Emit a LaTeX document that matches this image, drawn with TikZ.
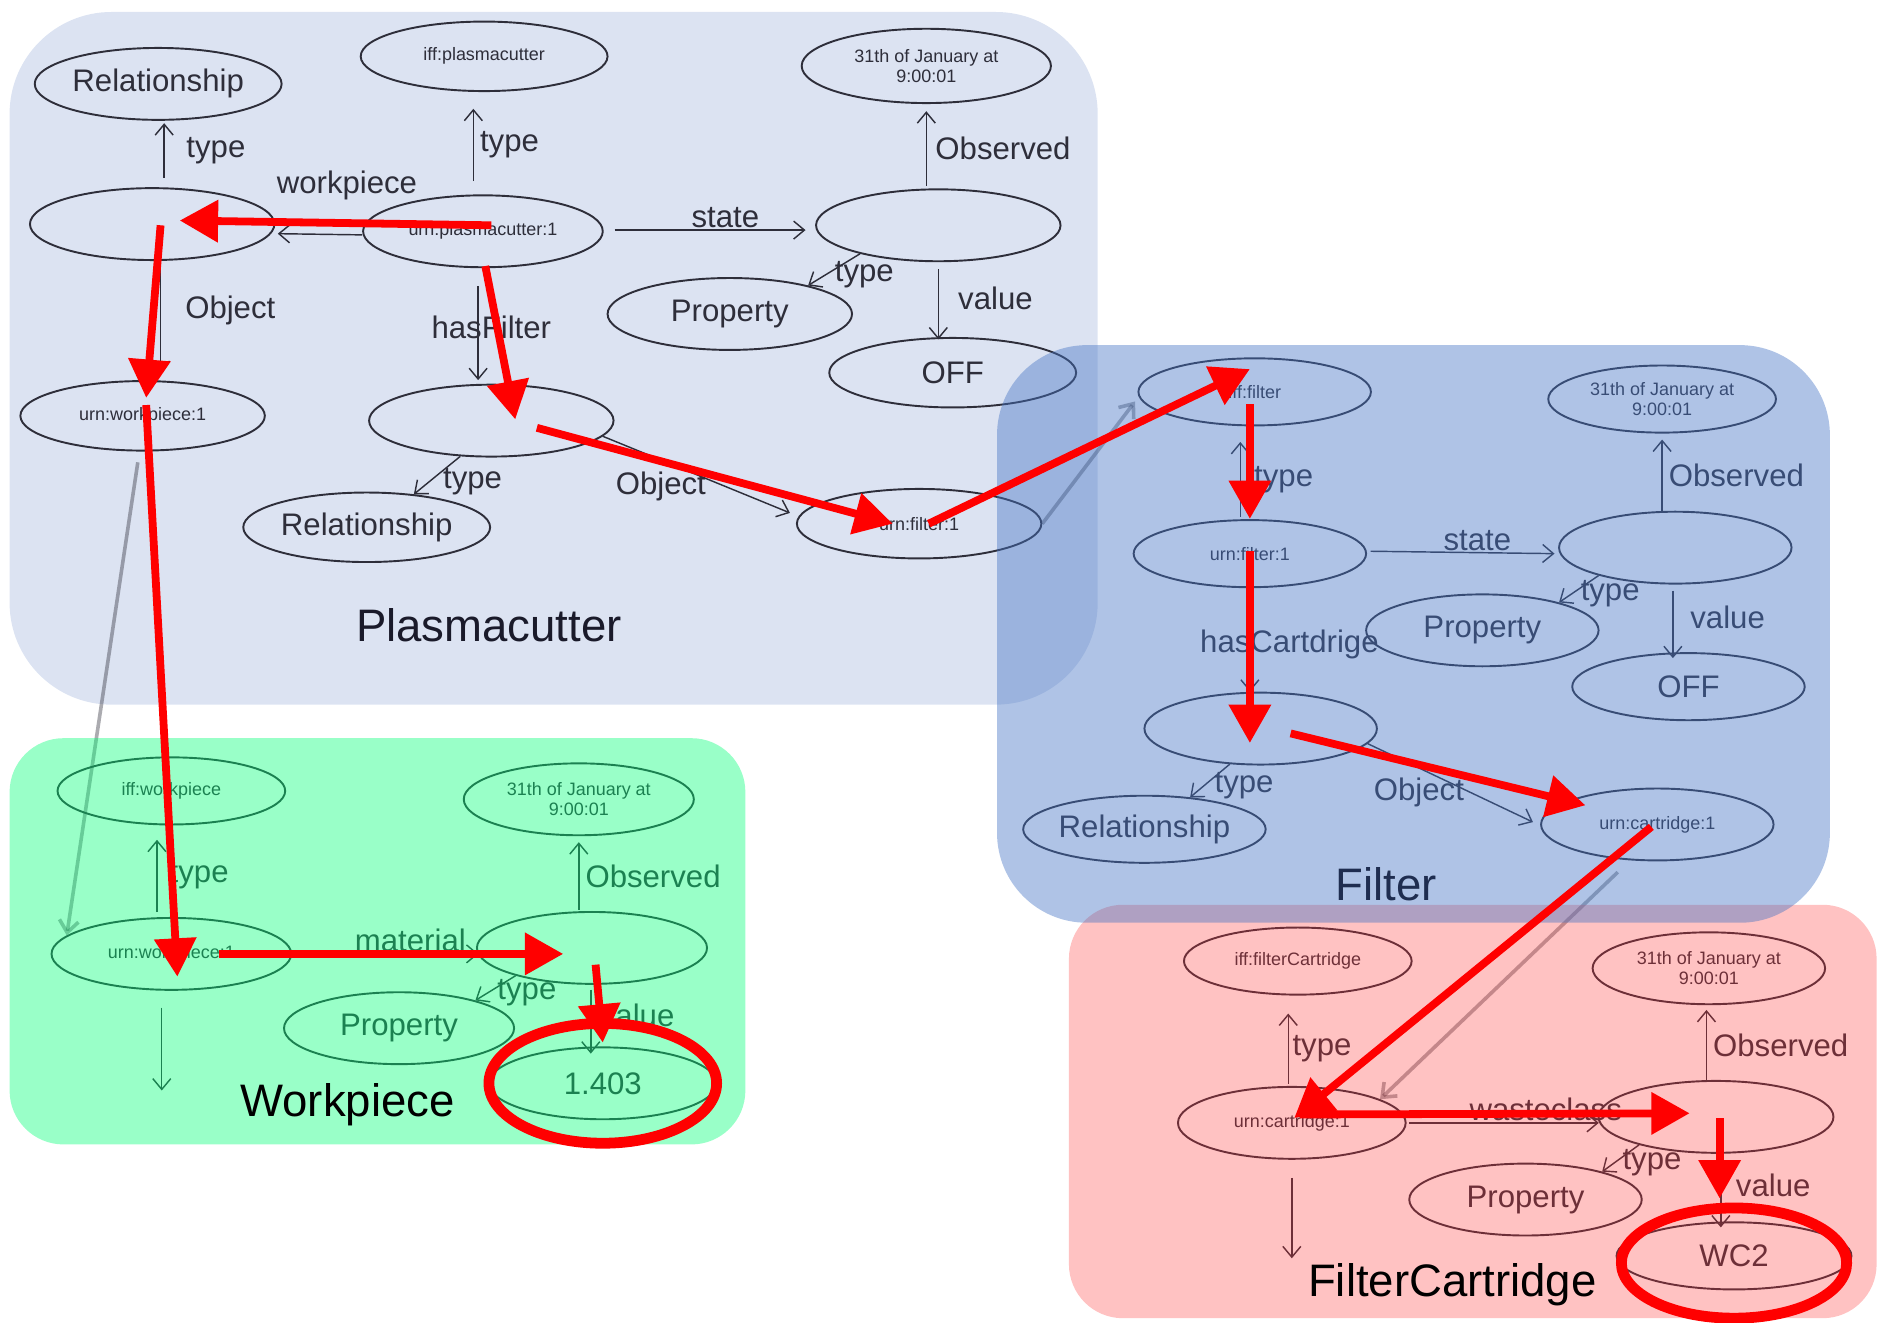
\documentclass[tikz,border=0pt]{standalone}
\usepackage{fontspec}
\setmainfont{Liberation Sans}
\usetikzlibrary{arrows.meta,shapes.geometric}
\definecolor{ink}{HTML}{2E2E3A}
\definecolor{plasmabg}{HTML}{DCE3F2}
\definecolor{filterov}{RGB}{70,117,196}
\definecolor{greenov}{RGB}{0,255,117}
\definecolor{pinkov}{RGB}{255,52,52}
\definecolor{grpA}{HTML}{1A1A2A}
\definecolor{grpB}{HTML}{1F2D50}
\begin{document}
\begin{tikzpicture}[x=1pt,y=-1pt,
  ell/.style={ellipse, draw=ink, line width=1.6pt, inner sep=0pt, text=ink},
  bigtxt/.style={font=\fontsize{26}{28}\selectfont},
  smalltxt/.style={font=\fontsize{15}{17}\selectfont, align=center},
  conn/.style={draw=ink, line width=1.2pt, -{Straight Barb[length=9pt,width=15pt]}},
  lbl/.style={font=\fontsize{26}{28}\selectfont, text=ink, inner sep=1pt},
  ghost/.style={draw=ink, draw opacity=0.4, line width=3pt, -{Straight Barb[length=10pt,width=16pt]}},
  redarrow/.style={draw=red, line width=6.5pt, -{Triangle[length=32pt,width=34pt]}},
  redring/.style={draw=red, line width=9pt},
  grouplbl/.style={font=\fontsize{38}{40}\selectfont}
]
\useasboundingbox (0,0) rectangle (1568,1104);
% plasmacutter background
\fill[plasmabg, rounded corners=85pt] (8,10) rectangle (916,588);

% ---------- Plasmacutter nodes
\node[ell,bigtxt,minimum width=206pt,minimum height=60pt] (p_rel) at (132,70) {Relationship};
\node[ell,smalltxt,minimum width=206pt,minimum height=58pt] (p_iff) at (404,47) {iff:plasmacutter};
\node[ell,smalltxt,minimum width=208pt,minimum height=62pt] (p_time) at (773,55) {31th of January at\\9:00:01};
\node[ell,minimum width=204pt,minimum height=60pt] (p_wrel) at (127,187) {};
\node[ell,smalltxt,minimum width=200pt,minimum height=60pt] (p_urn) at (403,193) {urn:plasmacutter:1};
\node[ell,minimum width=204pt,minimum height=60pt] (p_state) at (783,188) {};
\node[ell,bigtxt,minimum width=204pt,minimum height=60pt] (p_prop) at (609,262) {Property};
\node[ell,bigtxt,minimum width=206pt,minimum height=58pt] (p_off) at (795,311) {OFF};
\node[ell,smalltxt,minimum width=204pt,minimum height=58pt] (p_wp) at (119,347) {urn:workpiece:1};
\node[ell,minimum width=204pt,minimum height=60pt] (p_frel) at (410,351) {};
\node[ell,bigtxt,minimum width=206pt,minimum height=58pt] (p_rel2) at (306,440) {Relationship};
\node[ell,smalltxt,minimum width=204pt,minimum height=58pt] (p_filt) at (767,437) {urn:filter:1};

\draw[conn] ([shift={(10,-8)}]p_wrel.north) -- ([shift={(5,2)}]p_rel.south) node[lbl,midway,right=17pt]{type};
\draw[conn] ([shift={(0,3)}]p_urn.west) -- ([shift={(2,8)}]p_wrel.east) node[lbl,pos=0.18,above=27pt]{workpiece};
\draw[conn] ([shift={(-8,-11)}]p_urn.north) -- ([shift={(-9,14)}]p_iff.south) node[lbl,midway,right=4pt]{type};
\draw[conn] ([shift={(9,-1)}]p_urn.east) -- ([shift={(-8,4)}]p_state.west) node[lbl,pos=0.58,above=0pt]{state};
\draw[conn] ([shift={(-10,-2)}]p_state.north) -- ([shift={(0,6)}]p_time.south) node[lbl,midway,right=6pt]{Observed};
\draw[conn] (p_state.200) -- (p_prop.20) node[lbl,pos=0.52,anchor=west,shift={(0,4)}]{type};
\draw[conn] ([shift={(0,6)}]p_state.south) -- ([shift={(-12,2)}]p_off.north) node[lbl,midway,right=15pt,shift={(0,-5)}]{value};
\draw[conn] ([shift={(7,5)}]p_wrel.south) -- ([shift={(15,-6)}]p_wp.north) node[lbl,midway,right=19pt,shift={(0,-8)}]{Object};
\draw[conn] ([shift={(-4,15)}]p_urn.south) -- ([shift={(-11,-3)}]p_frel.north) node[lbl,midway,shift={(11,-5)}]{hasFilter};
\draw[conn] (p_frel.229) -- (p_rel2.35) node[lbl,pos=0.41,anchor=west,shift={(0,8)}]{type};
\draw[conn] (p_frel.-8) -- ([shift={(-5,-9)}]p_filt.west) node[lbl,pos=0.31,below=8pt]{Object};

% ---------- Filter nodes
\node[ell,smalltxt,minimum width=194pt,minimum height=56pt] (f_iff) at (1047,327) {iff:filter};
\node[ell,smalltxt,minimum width=190pt,minimum height=56pt] (f_time) at (1387,333) {31th of January at\\9:00:01};
\node[ell,smalltxt,minimum width=194pt,minimum height=56pt] (f_urn) at (1043,462) {urn:filter:1};
\node[ell,minimum width=194pt,minimum height=60pt] (f_state) at (1398,457) {};
\node[ell,bigtxt,minimum width=194pt,minimum height=60pt] (f_prop) at (1237,526) {Property};
\node[ell,bigtxt,minimum width=194pt,minimum height=56pt] (f_off) at (1409,573) {OFF};
\node[ell,minimum width=194pt,minimum height=60pt] (f_rel) at (1052,608) {};
\node[ell,bigtxt,minimum width=194pt,minimum height=56pt] (f_rel2) at (955,692) {Relationship};
\node[ell,smalltxt,minimum width=194pt,minimum height=60pt] (f_cart) at (1383,688) {urn:cartridge:1};

\draw[conn] ([shift={(-8,-2)}]f_urn.north) -- ([shift={(-12,13)}]f_iff.south) node[lbl,midway,right=10pt]{type};
\draw[conn] ([shift={(3,-2)}]f_urn.east) -- ([shift={(-3,5)}]f_state.west) node[lbl,pos=0.58,above=0pt]{state};
\draw[conn] ([shift={(-11,1)}]f_state.north) -- ([shift={(0,5)}]f_time.south) node[lbl,midway,right=4pt]{Observed};
\draw[conn] (f_state.200) -- (f_prop.20) node[lbl,pos=0.5,anchor=west,shift={(0,4)}]{type};
\draw[conn] ([shift={(-2,5)}]f_state.south) -- ([shift={(-13,5)}]f_off.north) node[lbl,midway,right=13pt,shift={(0,-6)}]{value};
\draw[conn] ([shift={(0,4)}]f_urn.south) -- ([shift={(-9,0)}]f_rel.north) node[lbl,midway,shift={(33,2)}]{hasCartdrige};
\draw[conn] (f_rel.229) -- (f_rel2.35) node[lbl,pos=0.43,anchor=west,shift={(0,6)}]{type};
\draw[conn] (f_rel.-8) -- ([shift={(-6,-2)}]f_cart.west) node[lbl,pos=0.31,below=7pt]{Object};

% ---------- Workpiece nodes
\node[ell,smalltxt,minimum width=190pt,minimum height=56pt] (w_iff) at (143,660) {iff:workpiece};
\node[ell,smalltxt,minimum width=192pt,minimum height=60pt] (w_time) at (483,667) {31th of January at\\9:00:01};
\node[ell,smalltxt,minimum width=200pt,minimum height=60pt] (w_urn) at (143,796) {urn:workpiece:1};
\node[ell,minimum width=192pt,minimum height=60pt] (w_mat) at (494,791) {};
\node[ell,bigtxt,minimum width=192pt,minimum height=60pt] (w_prop) at (333,858) {Property};
\node[ell,bigtxt,minimum width=190pt,minimum height=60pt] (w_val) at (503,904) {1.403};
\coordinate (w_end) at (135,910);

\draw[conn] ([shift={(-12,-4)}]w_urn.north) -- ([shift={(-12,12)}]w_iff.south) node[lbl,midway,right=9pt]{type};
\draw[conn] ([shift={(2,0)}]w_urn.east) -- ([shift={(2,5)}]w_mat.west) node[lbl,pos=0.63,above=0pt]{material};
\draw[conn] ([shift={(-11,-1)}]w_mat.north) -- ([shift={(0,5)}]w_time.south) node[lbl,midway,right=4pt]{Observed};
\draw[conn] (w_mat.200) -- (w_prop.20) node[lbl,pos=0.5,anchor=west,shift={(0,4)}]{type};
\draw[conn] ([shift={(-1,4)}]w_mat.south) -- ([shift={(-10,6)}]w_val.north) node[lbl,midway,right=6pt,shift={(0,-5)}]{value};
\draw[conn] ([shift={(-8,14)}]w_urn.south) -- (w_end);

% ---------- FilterCartridge nodes
\node[ell,smalltxt,minimum width=190pt,minimum height=56pt] (c_iff) at (1083,802) {iff:filterCartridge};
\node[ell,smalltxt,minimum width=194pt,minimum height=60pt] (c_time) at (1426,808) {31th of January at\\9:00:01};
\node[ell,smalltxt,minimum width=190pt,minimum height=60pt] (c_urn) at (1078,937) {urn:cartridge:1};
\node[ell,minimum width=196pt,minimum height=60pt] (c_st) at (1432,932) {};
\node[ell,bigtxt,minimum width=194pt,minimum height=60pt] (c_prop) at (1273,1001) {Property};
\node[ell,bigtxt,minimum width=196pt,minimum height=56pt] (c_wc) at (1447,1048) {WC2};
\coordinate (c_end) at (1078,1050);

\draw[conn] ([shift={(-3,-2)}]c_urn.north) -- ([shift={(-8,15)}]c_iff.south) node[lbl,midway,right=2pt]{type};
\draw[conn] ([shift={(2,0)}]c_urn.east) -- ([shift={(1,5)}]c_st.west) node[lbl,pos=0.72,above=0pt]{wasteclass};
\draw[conn] ([shift={(-8,0)}]c_st.north) -- ([shift={(-2,4)}]c_time.south) node[lbl,midway,right=4pt]{Observed};
\draw[conn] (c_st.200) -- (c_prop.20) node[lbl,pos=0.5,anchor=west,shift={(0,4)}]{type};
\draw[conn] ([shift={(4,5)}]c_st.south) -- ([shift={(-11,5)}]c_wc.north) node[lbl,midway,right=11pt,shift={(0,-7)}]{value};
\draw[conn] ([shift={(0,15)}]c_urn.south) -- (c_end);

% ---------- cross-group grey links
\draw[ghost] ([shift={(-4,9)}]p_wp.south) -- (w_urn.170);
\draw[ghost] (p_filt.east) -- ([shift={(-2,8)}]f_iff.west);
\draw[ghost] ([shift={(-33,9)}]f_cart.south) -- (c_urn.15);

% ---------- group overlays
\fill[greenov, opacity=0.4, rounded corners=45pt] (8,616) rectangle (622,955);
\fill[pinkov, opacity=0.3, rounded corners=45pt] (892,755) rectangle (1566,1100);
\fill[filterov, opacity=0.43, rounded corners=75pt] (832,288) rectangle (1527,770);

% ---------- group labels
\node[grouplbl,text=grpA] (g_plasma) at (408,522) {Plasmacutter};
\node[grouplbl,text=grpB] (g_filter) at (1157,738) {Filter};
\node[grouplbl,text=black] (g_work) at (290,922) {Workpiece};
\node[grouplbl,text=black] (g_cart) at (1212,1072) {FilterCartridge};

% ---------- red path
\draw[redarrow] ([shift={(7,-5)}]p_urn.center) -- ([shift={(23,-3)}]p_wrel.center);
\draw[redarrow] ([shift={(7,1)}]p_wrel.center) -- ([shift={(3,-15)}]p_wp.center);
\draw[redarrow] ([shift={(3,-9)}]p_wp.center) -- ([shift={(5,19)}]w_urn.center);
\draw[redarrow] ([shift={(40,0)}]w_urn.center) -- ([shift={(-24,5)}]w_mat.center);
\draw[redarrow] ([shift={(3,14)}]w_mat.center) -- ([shift={(0,-34)}]w_val.center);
\draw[redring] (w_val.center) ellipse [x radius=95, y radius=50];
\draw[redarrow] ([shift={(2,29)}]p_urn.center) -- ([shift={(20,-1)}]p_frel.center);
\draw[redarrow] ([shift={(38,6)}]p_frel.center) -- ([shift={(-22,0)}]p_filt.center);
\draw[redarrow] ([shift={(8,0)}]p_filt.center) -- ([shift={(-4,-19)}]f_iff.center);
\draw[redarrow] ([shift={(-4,10)}]f_iff.center) -- ([shift={(0,-29)}]f_urn.center);
\draw[redarrow] ([shift={(0,-2)}]f_urn.center) -- ([shift={(-9,12)}]f_rel.center);
\draw[redarrow] ([shift={(25,4)}]f_rel.center) -- ([shift={(-60,-16)}]f_cart.center);
\draw[redarrow] ([shift={(-5,2)}]f_cart.center) -- ([shift={(2,-4)}]c_urn.center);
\draw[redarrow] ([shift={(7,-7)}]c_urn.center) -- ([shift={(-22,-3)}]c_st.center);
\draw[redarrow] ([shift={(3,1)}]c_st.center) -- ([shift={(-12,-48)}]c_wc.center);
\draw[redring] ([shift={(0,6)}]c_wc.center) ellipse [x radius=94, y radius=46];
\end{tikzpicture}
\end{document}
